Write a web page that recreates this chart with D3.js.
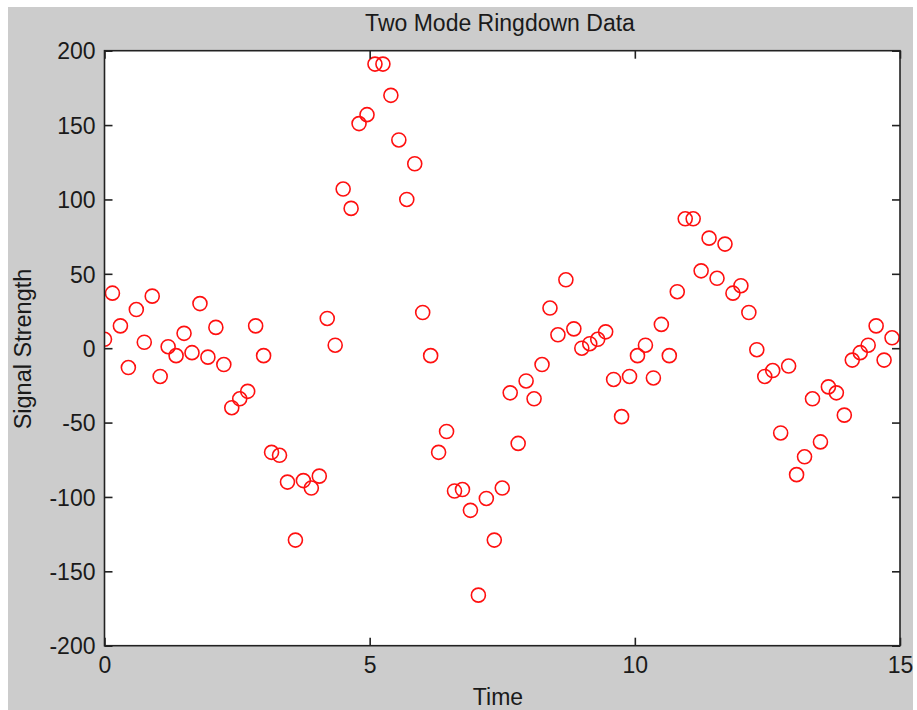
<!DOCTYPE html>
<html>
<head>
<meta charset="utf-8">
<script src="https://cdn.jsdelivr.net/npm/d3@7"></script>
<style>
  html, body { margin: 0; padding: 0; background: #ffffff; }
  svg { display: block; }
  text { font-family: "Liberation Sans", Arial, sans-serif; fill: #1a1a1a; }
</style>
</head>
<body>
<svg id="chart" width="917" height="710"></svg>
<script>
const title = "Two Mode Ringdown Data";
const xLabel = "Time";
const yLabel = "Signal Strength";

const time = [
  0.00, 0.15, 0.30, 0.45, 0.60, 0.75, 0.90, 1.05, 1.20, 1.35,
  1.50, 1.65, 1.80, 1.95, 2.10, 2.25, 2.40, 2.55, 2.70, 2.85,
  3.00, 3.15, 3.30, 3.45, 3.60, 3.75, 3.90, 4.05, 4.20, 4.35,
  4.50, 4.65, 4.80, 4.95, 5.10, 5.25, 5.40, 5.55, 5.70, 5.85,
  6.00, 6.15, 6.30, 6.45, 6.60, 6.75, 6.90, 7.05, 7.20, 7.35,
  7.50, 7.65, 7.80, 7.95, 8.10, 8.25, 8.40, 8.55, 8.70, 8.85,
  9.00, 9.15, 9.30, 9.45, 9.60, 9.75, 9.90, 10.05, 10.20, 10.35,
  10.50, 10.65, 10.80, 10.95, 11.10, 11.25, 11.40, 11.55, 11.70, 11.85,
  12.00, 12.15, 12.30, 12.45, 12.60, 12.75, 12.90, 13.05, 13.20, 13.35,
  13.50, 13.65, 13.80, 13.95, 14.10, 14.25, 14.40, 14.55, 14.70, 14.85
];

const signal = [
  6, 37, 15, -13, 26, 4, 35, -19, 1, -5,
  10, -3, 30, -6, 14, -11, -40, -34, -29, 15,
  -5, -70, -72, -90, -129, -89, -94, -86, 20, 2,
  107, 94, 151, 157, 191, 191, 170, 140, 100, 124,
  24, -5, -70, -56, -96, -95, -109, -166, -101, -129,
  -94, -30, -64, -22, -34, -11, 27, 9, 46, 13,
  0, 3, 6, 11, -21, -46, -19, -5, 2, -20,
  16, -5, 38, 87, 87, 52, 74, 47, 70, 37,
  42, 24, -1, -19, -15, -57, -12, -85, -73, -34,
  -63, -26, -30, -45, -8, -3, 2, 15, -8, 7
];

const xTicks = [0, 5, 10, 15];
const yTicks = [-200, -150, -100, -50, 0, 50, 100, 150, 200];

const svg = d3.select("#chart");
const plot = { left: 104.5, right: 900, top: 50.7, bottom: 645.7 };

// gray figure background
svg.append("rect").attr("x", 8).attr("y", 7).attr("width", 905).attr("height", 703)
  .attr("fill", "#cccccc");

const x = d3.scaleLinear().domain([0, 15]).range([plot.left, plot.right]);
const y = d3.scaleLinear().domain([-200, 200]).range([plot.bottom, plot.top]);

// white plot area
svg.append("rect")
  .attr("x", plot.left).attr("y", plot.top)
  .attr("width", plot.right - plot.left).attr("height", plot.bottom - plot.top)
  .attr("fill", "#ffffff");

// markers
const clipId = "plotclip";
svg.append("clipPath").attr("id", clipId).append("rect")
  .attr("x", plot.left).attr("y", plot.top - 8)
  .attr("width", plot.right - plot.left + 0.5).attr("height", plot.bottom - plot.top + 16);

svg.append("g").attr("clip-path", `url(#${clipId})`)
  .selectAll("circle").data(time.map((t, i) => [t, signal[i]]))
  .join("circle")
  .attr("cx", d => x(d[0]))
  .attr("cy", d => y(d[1]))
  .attr("r", 7)
  .attr("fill", "none")
  .attr("stroke", "#ff1010")
  .attr("stroke-width", 1.6);

const tickLen = 8;
const axisColor = "#222222";
const fontSize = 23;
const fmt = d => String(d);   // plain hyphen-minus like the reference

const gB = svg.append("g").attr("transform", `translate(0,${plot.bottom})`)
  .call(d3.axisBottom(x).tickValues(xTicks).tickSize(-tickLen).tickPadding(12).tickFormat(fmt));
const gL = svg.append("g").attr("transform", `translate(${plot.left},0)`)
  .call(d3.axisLeft(y).tickValues(yTicks).tickSize(-tickLen).tickPadding(9).tickFormat(fmt));
const gT = svg.append("g").attr("transform", `translate(0,${plot.top})`)
  .call(d3.axisTop(x).tickValues(xTicks).tickSize(-tickLen).tickFormat(""));
const gR = svg.append("g").attr("transform", `translate(${plot.right},0)`)
  .call(d3.axisRight(y).tickValues(yTicks).tickSize(-tickLen).tickFormat(""));

[gB, gL, gT, gR].forEach(g => {
  g.select(".domain").remove();
  g.selectAll(".tick line").attr("stroke", axisColor).attr("stroke-width", 1.6);
  g.selectAll(".tick text")
    .style("font-family", '"Liberation Sans", Arial, sans-serif')
    .style("font-size", fontSize + "px")
    .attr("fill", "#1a1a1a");
});
gL.selectAll(".tick text").attr("dy", "0.36em");
gB.selectAll(".tick text").attr("dy", "0.68em");

// box
svg.append("rect")
  .attr("x", plot.left).attr("y", plot.top)
  .attr("width", plot.right - plot.left).attr("height", plot.bottom - plot.top)
  .attr("fill", "none").attr("stroke", axisColor).attr("stroke-width", 1.6);

// title
svg.append("text")
  .attr("x", 500).attr("y", 31)
  .attr("text-anchor", "middle")
  .style("font-size", fontSize + "px")
  .text(title);

// x label
svg.append("text")
  .attr("x", 498).attr("y", 705)
  .attr("text-anchor", "middle")
  .style("font-size", fontSize + "px")
  .text(xLabel);

// y label
svg.append("text")
  .attr("transform", `translate(31,349) rotate(-90)`)
  .attr("text-anchor", "middle")
  .style("font-size", (fontSize + 0.5) + "px")
  .text(yLabel);
</script>
</body>
</html>
